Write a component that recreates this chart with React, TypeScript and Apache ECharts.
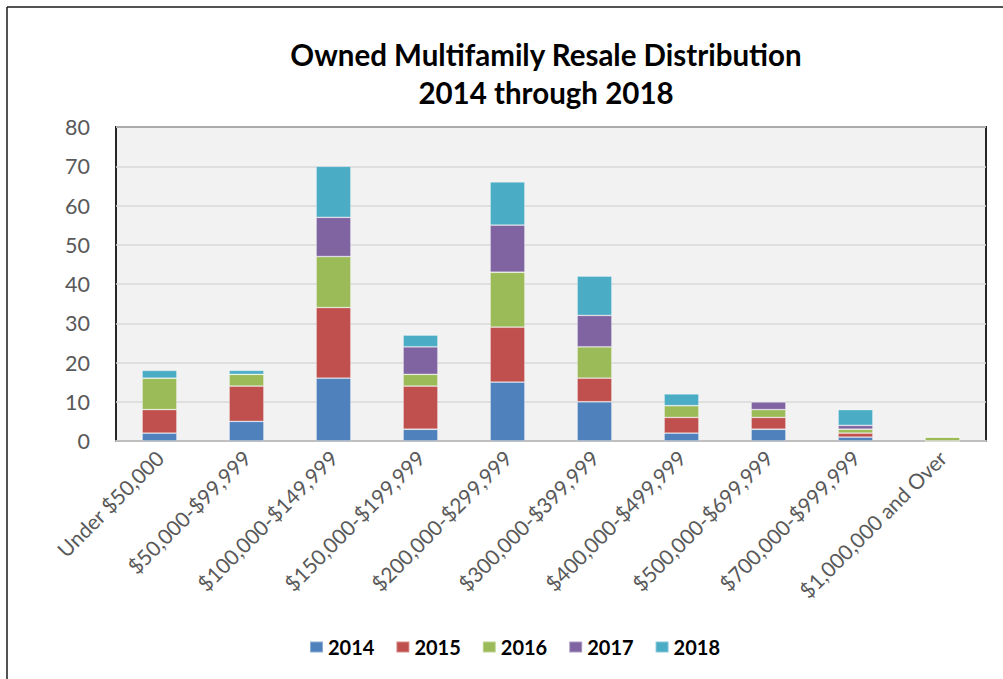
import React, { useEffect, useRef } from "react";
import * as echarts from "echarts";

const categories = [
  "Under $50,000",
  "$50,000-$99,999",
  "$100,000-$149,999",
  "$150,000-$199,999",
  "$200,000-$299,999",
  "$300,000-$399,999",
  "$400,000-$499,999",
  "$500,000-$699,999",
  "$700,000-$999,999",
  "$1,000,000 and Over",
];
const years = ["2014", "2015", "2016", "2017", "2018"];
const values2014 = [2, 5, 16, 3, 15, 10, 2, 3, 1, 0];
const values2015 = [6, 9, 18, 11, 14, 6, 4, 3, 1, 0];
const values2016 = [8, 3, 13, 3, 14, 8, 3, 2, 1, 1];
const values2017 = [0, 0, 10, 7, 12, 8, 0, 2, 1, 0];
const values2018 = [2, 1, 13, 3, 11, 10, 3, 0, 4, 0];
const seriesValues = [values2014, values2015, values2016, values2017, values2018];
const colors = ["#4F81BD", "#C0504D", "#9BBB59", "#8064A2", "#4BACC6"];
const yTicks = { min: 0, max: 80, interval: 10 };

const FONT = "Lato, 'Open Sans', sans-serif";

export default function App() {
  const ref = useRef<HTMLDivElement>(null);
  useEffect(() => {
    if (!ref.current) return;
    const chart = echarts.init(ref.current, undefined, { renderer: "svg" });
    chart.setOption({
      animation: false,
      backgroundColor: "#ffffff",
      textStyle: { fontFamily: FONT },
      title: {
        text: "Owned Multifamily Resale Distribution\n2014 through 2018",
        left: 541,
        textAlign: "center",
        top: 30,
        textStyle: {
          fontFamily: FONT,
          fontSize: 29.5,
          fontWeight: "bold",
          color: "#000000",
          lineHeight: 38,
        },
      },
      legend: {
        data: years,
        left: 304,
        top: 632,
        itemWidth: 13,
        itemHeight: 11,
        itemGap: 21,
        icon: "rect",
        textStyle: { fontFamily: FONT, fontSize: 20, fontWeight: "bold", color: "#000000" },
      },
      grid: {
        left: 116,
        top: 127,
        width: 870,
        height: 314,
        show: true,
        backgroundColor: "#f2f2f2",
        borderColor: "#262626",
        borderWidth: 2,
      },
      xAxis: {
        type: "category",
        data: categories,
        axisLine: { lineStyle: { color: "#bfbfbf", width: 2 } },
        axisTick: { show: false },
        axisLabel: {
          rotate: 45,
          interval: 0,
          fontFamily: FONT,
          fontSize: 21,
          color: "#595959",
          margin: 13,
        },
      },
      yAxis: {
        type: "value",
        min: yTicks.min,
        max: yTicks.max,
        interval: yTicks.interval,
        axisLine: { show: false },
        axisTick: { show: false },
        splitLine: { lineStyle: { color: "#d9d9d9", width: 1.5 } },
        axisLabel: { fontFamily: FONT, fontSize: 21.5, color: "#595959", margin: 26 },
      },
      series: years.map((y, i) => ({
        name: y,
        type: "bar",
        stack: "total",
        data: seriesValues[i],
        barWidth: "40%",
        itemStyle: {
          color: colors[i],
          borderColor: "rgba(255,255,255,0.35)",
          borderWidth: 0.8,
        },
      })),
      graphic: [
        {
          type: "line",
          shape: { x1: 7, y1: 7, x2: 1003, y2: 7 },
          style: { stroke: "#1a1a1a", lineWidth: 1.5 },
        },
        {
          type: "line",
          shape: { x1: 7, y1: 7, x2: 7, y2: 679 },
          style: { stroke: "#1a1a1a", lineWidth: 1.5 },
        },
      ],
    });
    return () => chart.dispose();
  }, []);
  return (
    <div
      ref={ref}
      style={{ position: "fixed", left: 0, top: 0, width: 1003, height: 679 }}
    />
  );
}
